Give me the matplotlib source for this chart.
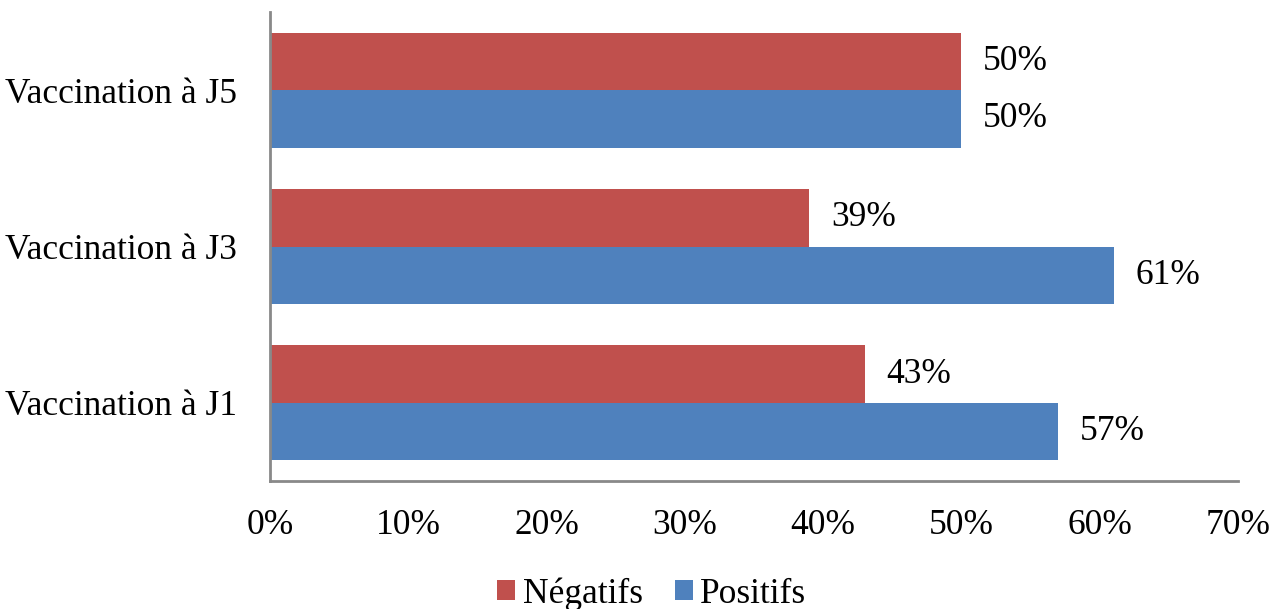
import matplotlib
matplotlib.use("Agg")
import matplotlib.pyplot as plt
import numpy as np
from matplotlib.ticker import FuncFormatter

plt.rcParams['font.family'] = ['Liberation Serif', 'DejaVu Serif']

categories = ["Vaccination à J1", "Vaccination à J3", "Vaccination à J5"]
negatifs = [43, 39, 50]
positifs = [57, 61, 50]
xticks = [0, 10, 20, 30, 40, 50, 60, 70]

red = "#C0504D"
blue = "#4F81BD"
fs = 25.5

fig = plt.figure(figsize=(12.83, 6.09), dpi=100)
ax = fig.add_axes([270/1283, 1 - 481/609, (1238-270)/1283, (481-12)/609])

y = np.arange(len(categories))
h = 0.367
ax.barh(y + h/2, negatifs, height=h, color=red, label="Négatifs")
ax.barh(y - h/2, positifs, height=h, color=blue, label="Positifs")

for yi, v in zip(y + h/2, negatifs):
    ax.annotate(f"{v}%", (v, yi), xytext=(15.5, 0), textcoords="offset points",
                va="center", ha="left", fontsize=fs)
for yi, v in zip(y - h/2, positifs):
    ax.annotate(f"{v}%", (v, yi), xytext=(15.5, 0), textcoords="offset points",
                va="center", ha="left", fontsize=fs)

ax.set_xlim(0, 70)
ax.set_ylim(-0.5, 2.5)
ax.set_xticks(xticks)
ax.xaxis.set_major_formatter(FuncFormatter(lambda v, p: f"{v:.0f}%"))
ax.set_yticks(y)
ax.set_yticklabels(categories)
ax.tick_params(axis="both", length=0, labelsize=fs)
ax.tick_params(axis="x", pad=20)
ax.tick_params(axis="y", pad=24)

for s in ["top", "right"]:
    ax.spines[s].set_visible(False)
for s in ["left", "bottom"]:
    ax.spines[s].set_color("#898989")
    ax.spines[s].set_linewidth(2)

handles, labels = ax.get_legend_handles_labels()
fig.legend(handles, labels, loc="center", bbox_to_anchor=(652/1283, 1 - 594/609),
           ncol=2, frameon=False, fontsize=fs, handlelength=0.5, handleheight=0.5,
           handletextpad=0.22, columnspacing=0.9)

fig.savefig("out.png", dpi=100)
